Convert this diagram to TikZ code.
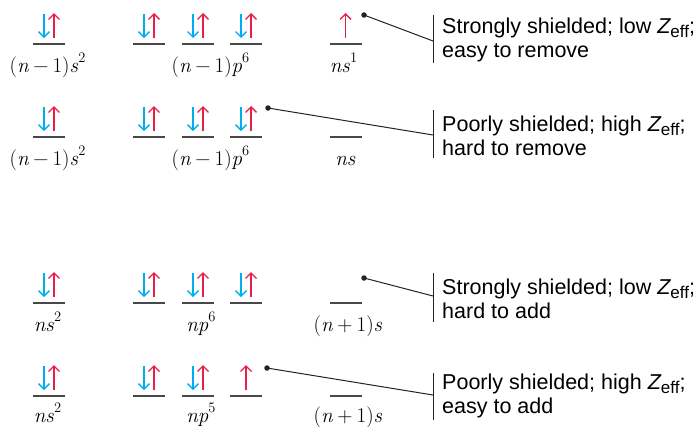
\documentclass[tikz,border=0pt]{standalone}
\usepackage{fontspec}
\newfontfamily\notefont{Liberation Sans}
\usetikzlibrary{arrows.meta}
\definecolor{spinblue}{RGB}{0,174,239}
\definecolor{spinred}{RGB}{234,28,72}
\definecolor{levelgray}{RGB}{72,72,72}
\definecolor{inkgray}{RGB}{35,35,35}
\tikzset{
  levelline/.style={draw=levelgray, line width=1.3pt},
  upspin/.style={draw=spinred, line width=1.4pt, -{Straight Barb[length=5.5pt,width=11pt]}},
  downspin/.style={draw=spinblue, line width=1.4pt, -{Straight Barb[length=5.5pt,width=11pt]}},
  orblabel/.style={anchor=base, inner sep=0pt, font=\fontsize{21}{24}\selectfont},
  note/.style={anchor=base west, inner sep=0pt, font=\notefont\fontsize{21.5}{24}\selectfont},
  bracketline/.style={draw=inkgray, line width=1pt},
  pointer/.style={draw=inkgray, line width=1pt},
  dotmark/.style={circle, fill=inkgray, inner sep=0pt, minimum size=5.5pt}
}
\newcommand\zeff{{\itshape Z}\raisebox{-0.2em}{\fontsize{17}{17}\selectfont eff}}
\newcommand\opsp{\hspace{0.2em}}
\newcommand\supx[1]{\raisebox{0.45em}{\fontsize{14.5}{14.5}\selectfont #1}}
\newcommand\nmone{(\textit{n}\opsp−\opsp1)}
\newcommand\npone{(\textit{n}\opsp+\opsp1)}
\newcommand\orbpair[2]{%
  \draw[levelline] ({#1-16},#2) -- ({#1+16},#2);
  \draw[downspin] ({#1-5},{#2-30}) -- ({#1-5},{#2-6});
  \draw[upspin] ({#1+5},{#2-6}) -- ({#1+5},{#2-31});}
\newcommand\orbsingle[2]{%
  \draw[levelline] ({#1-16},#2) -- ({#1+16},#2);
  \draw[upspin] (#1,{#2-6}) -- (#1,{#2-31});}
\newcommand\orbempty[2]{%
  \draw[levelline] ({#1-16},#2) -- ({#1+16},#2);}
\begin{document}
\begin{tikzpicture}[x=1pt,y=-1pt]
\useasboundingbox (0,0) rectangle (698,426);

% ---------- Row 1 ----------
\orbpair{49}{44}
\orbpair{149}{44}\orbpair{198}{44}\orbpair{246}{44}
\orbsingle{345.5}{44}
\node[orblabel] (l1s) at (47.5,72) {\nmone\textit{s}\supx{2}};
\node[orblabel] (l1p) at (210.5,72) {\nmone\textit{p}\supx{6}};
\node[orblabel] (l1n) at (343.5,72) {\textit{ns}\supx{1}};
\node[dotmark] (d1) at (364,15) {};
\coordinate (b1) at (433,41);
\draw[bracketline] (433,15) -- (433,63);
\draw[pointer] (d1.center) -- (b1);
\node[note] (t1a) at (442,33) {Strongly shielded; low \zeff;};
\node[note] (t1b) at (442,57) {easy to remove};

% ---------- Row 2 ----------
\orbpair{49}{137}
\orbpair{149}{137}\orbpair{198}{137}\orbpair{246}{137}
\orbempty{345.5}{137}
\node[orblabel] (l2s) at (47.5,165) {\nmone\textit{s}\supx{2}};
\node[orblabel] (l2p) at (210.5,165) {\nmone\textit{p}\supx{6}};
\node[orblabel] (l2n) at (345.5,165) {\textit{ns}};
\node[dotmark] (d2) at (268,108) {};
\coordinate (b2) at (433,135);
\draw[bracketline] (433,110) -- (433,158);
\draw[pointer] (d2.center) -- (b2);
\node[note] (t2a) at (442,131) {Poorly shielded; high \zeff;};
\node[note] (t2b) at (442,155) {hard to remove};

% ---------- Row 3 ----------
\orbpair{49}{303}
\orbpair{149}{303}\orbpair{198}{303}\orbpair{246}{303}
\orbempty{345.5}{303}
\node[orblabel] (l3s) at (47.5,331) {\textit{ns}\supx{2}};
\node[orblabel] (l3p) at (201,331) {\textit{np}\supx{6}};
\node[orblabel] (l3n) at (348,331) {\npone\textit{s}};
\node[dotmark] (d3) at (364,278) {};
\coordinate (b3) at (433,296);
\draw[bracketline] (433,273) -- (433,322);
\draw[pointer] (d3.center) -- (b3);
\node[note] (t3a) at (442,294) {Strongly shielded; low \zeff;};
\node[note] (t3b) at (442,318) {hard to add};

% ---------- Row 4 ----------
\orbpair{49}{396}
\orbpair{149}{396}\orbpair{198}{396}\orbsingle{246}{396}
\orbempty{345.5}{396}
\node[orblabel] (l4s) at (47.5,422) {\textit{ns}\supx{2}};
\node[orblabel] (l4p) at (201,422) {\textit{np}\supx{5}};
\node[orblabel] (l4n) at (348,422) {\npone\textit{s}};
\node[dotmark] (d4) at (267,368) {};
\coordinate (b4) at (433,395);
\draw[bracketline] (433,373) -- (433,420);
\draw[pointer] (d4.center) -- (b4);
\node[note] (t4a) at (442,389) {Poorly shielded; high \zeff;};
\node[note] (t4b) at (442,413) {easy to add};
\end{tikzpicture}
\end{document}
